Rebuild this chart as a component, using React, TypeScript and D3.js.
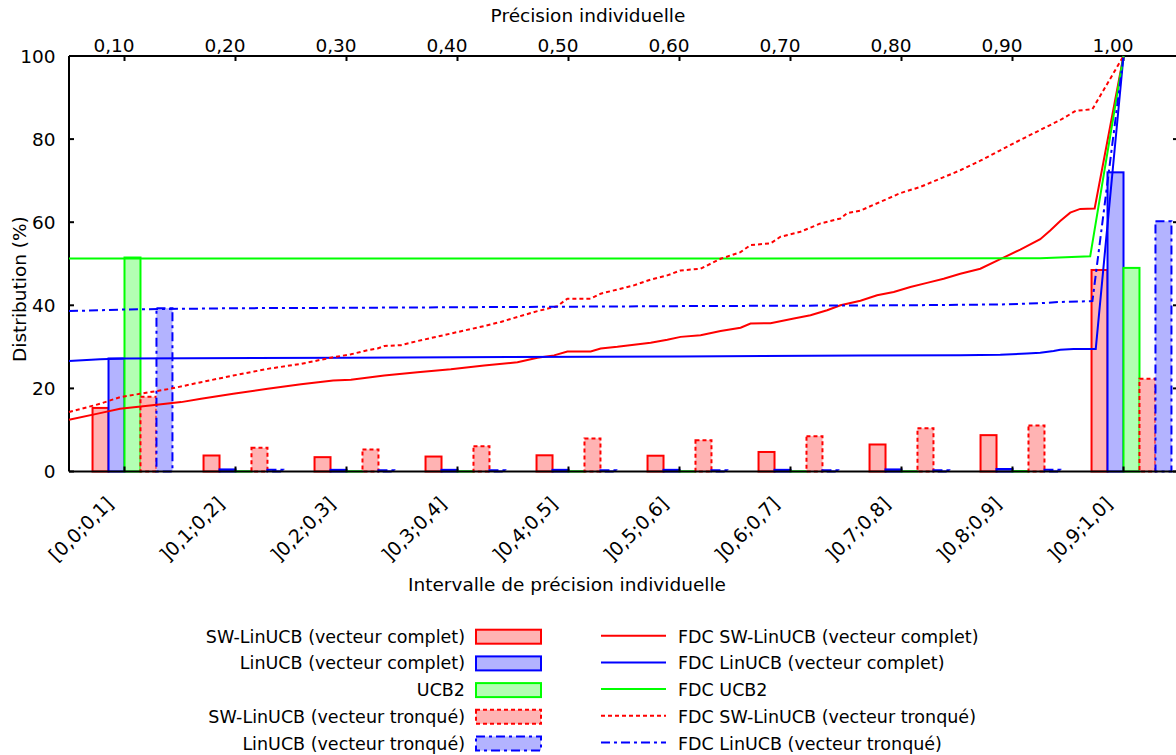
import React from 'react';
import * as d3 from 'd3';

// ---------- data ----------
const categories = [
  '[0,0;0,1]', ']0,1;0,2]', ']0,2;0,3]', ']0,3;0,4]', ']0,4;0,5]',
  ']0,5;0,6]', ']0,6;0,7]', ']0,7;0,8]', ']0,8;0,9]', ']0,9;1,0]',
];
const categoryPositions = [0.1, 0.2, 0.3, 0.4, 0.5, 0.6, 0.7, 0.8, 0.9, 1.0];
const topTicks = [0.1, 0.2, 0.3, 0.4, 0.5, 0.6, 0.7, 0.8, 0.9, 1.0];
const topTickLabels = ['0,10', '0,20', '0,30', '0,40', '0,50', '0,60', '0,70', '0,80', '0,90', '1,00'];
const yTicks = [0, 20, 40, 60, 80, 100];

// histogram values (%)
const barSwFull = [15.3, 3.85, 3.45, 3.6, 3.9, 3.8, 4.7, 6.5, 8.75, 48.5];
const barLinFull = [27.2, 0.5, 0.4, 0.4, 0.4, 0.4, 0.4, 0.5, 0.6, 72.0];
const barUcb2 = [51.5, 0.05, 0.05, 0.05, 0.05, 0.05, 0.05, 0.05, 0.1, 49.0];
const barSwTrunc = [18.0, 5.7, 5.3, 6.1, 7.95, 7.55, 8.5, 10.4, 11.1, 22.3];
const barLinTrunc = [39.3, 0.4, 0.3, 0.3, 0.3, 0.3, 0.3, 0.3, 0.4, 60.2];

// cumulative distribution functions (precision -> %)
const cdfSwFullX = [0.05, 0.078, 0.096, 0.123, 0.151, 0.169, 0.198, 0.229, 0.259, 0.288, 0.304, 0.334, 0.364, 0.394, 0.424, 0.454, 0.472, 0.487, 0.499, 0.520, 0.529, 0.544, 0.559, 0.574, 0.589, 0.601, 0.619, 0.637, 0.655, 0.664, 0.682, 0.703, 0.718, 0.733, 0.745, 0.763, 0.778, 0.793, 0.808, 0.823, 0.838, 0.853, 0.871, 0.889, 0.907, 0.925, 0.934, 0.943, 0.952, 0.961, 0.974, 1.0];
const cdfSwFullY = [12.45, 14.05, 15.1, 15.9, 16.7, 17.5, 18.7, 19.9, 21.0, 21.9, 22.1, 23.1, 23.9, 24.6, 25.5, 26.3, 27.4, 27.95, 28.9, 28.9, 29.6, 30.0, 30.5, 31.0, 31.7, 32.4, 32.8, 33.8, 34.6, 35.6, 35.7, 36.8, 37.6, 38.8, 40.0, 41.1, 42.4, 43.2, 44.4, 45.4, 46.4, 47.6, 48.8, 51.1, 53.4, 55.9, 58.0, 60.3, 62.3, 63.2, 63.3, 100];

const cdfSwTruncX = [0.05, 0.078, 0.096, 0.114, 0.141, 0.169, 0.198, 0.229, 0.259, 0.288, 0.304, 0.319, 0.328, 0.334, 0.349, 0.364, 0.394, 0.424, 0.439, 0.454, 0.472, 0.484, 0.490, 0.499, 0.520, 0.529, 0.544, 0.559, 0.574, 0.589, 0.601, 0.619, 0.637, 0.655, 0.664, 0.682, 0.691, 0.709, 0.727, 0.745, 0.751, 0.763, 0.781, 0.799, 0.817, 0.835, 0.853, 0.871, 0.889, 0.907, 0.925, 0.943, 0.957, 0.972, 1.0];
const cdfSwTruncY = [14.3, 16.3, 17.9, 18.7, 19.9, 21.5, 23.1, 24.7, 25.9, 27.5, 28.2, 29.2, 29.6, 30.2, 30.4, 31.4, 33.2, 35.0, 36.0, 37.2, 38.6, 39.4, 39.8, 41.6, 41.6, 42.8, 43.8, 44.8, 46.2, 47.2, 48.4, 48.8, 51.2, 52.8, 54.5, 54.9, 56.5, 57.7, 59.7, 60.9, 62.2, 62.8, 64.9, 67.0, 68.5, 70.5, 72.5, 74.8, 77.3, 79.8, 82.2, 84.6, 86.8, 87.2, 100];

const cdfLinFullX = [0.05, 0.078, 0.1, 0.3, 0.6, 0.763, 0.853, 0.889, 0.913, 0.925, 0.937, 0.943, 0.955, 0.975, 1.0];
const cdfLinFullY = [26.6, 27.0, 27.2, 27.4, 27.7, 27.9, 28.0, 28.1, 28.4, 28.6, 29.0, 29.3, 29.5, 29.5, 100];

const cdfUcb2X = [0.05, 0.925, 0.970, 1.0];
const cdfUcb2Y = [51.25, 51.3, 51.8, 100];

const cdfLinTruncX = [0.05, 0.1, 0.2, 0.3, 0.45, 0.6, 0.8, 0.889, 0.925, 0.943, 0.972, 1.0];
const cdfLinTruncY = [38.6, 39.0, 39.3, 39.4, 39.6, 39.8, 40.0, 40.2, 40.5, 40.8, 41.0, 100];

// ---------- series styling ----------
const RED = '#ff0000';
const BLUE = '#0000ff';
const GREEN = '#00ff00';
const DOT = '4,3';
const DASHDOT = '9,4,3,4';

const barSeries = [
  { name: 'SW-LinUCB (vecteur complet)', values: barSwFull, stroke: RED, fill: '#ffb3b3', dash: undefined as string | undefined },
  { name: 'LinUCB (vecteur complet)', values: barLinFull, stroke: BLUE, fill: '#b3b3ff', dash: undefined },
  { name: 'UCB2', values: barUcb2, stroke: GREEN, fill: '#b3ffb3', dash: undefined },
  { name: 'SW-LinUCB (vecteur tronqué)', values: barSwTrunc, stroke: RED, fill: '#ffb3b3', dash: DOT },
  { name: 'LinUCB (vecteur tronqué)', values: barLinTrunc, stroke: BLUE, fill: '#b3b3ff', dash: DASHDOT },
];

const lineSeries = [
  { name: 'FDC SW-LinUCB (vecteur complet)', xs: cdfSwFullX, ys: cdfSwFullY, stroke: RED, dash: undefined as string | undefined },
  { name: 'FDC LinUCB (vecteur complet)', xs: cdfLinFullX, ys: cdfLinFullY, stroke: BLUE, dash: undefined },
  { name: 'FDC UCB2', xs: cdfUcb2X, ys: cdfUcb2Y, stroke: GREEN, dash: undefined },
  { name: 'FDC SW-LinUCB (vecteur tronqué)', xs: cdfSwTruncX, ys: cdfSwTruncY, stroke: RED, dash: DOT },
  { name: 'FDC LinUCB (vecteur tronqué)', xs: cdfLinTruncX, ys: cdfLinTruncY, stroke: BLUE, dash: DASHDOT },
];

// ---------- layout ----------
const W = 1176;
const H = 755;
const FONT = '"DejaVu Sans", Verdana, sans-serif';
const LEFT = 69;
const RIGHT = 1179;
const TOP = 56;
const BOTTOM = 471.5;
const BAR_W = 0.0144;
const FS = 18.5;
const LEG_FS = 17.5;

export default function App() {
  const x = d3.scaleLinear().domain([0.05, 1.05]).range([LEFT, RIGHT]);
  const y = d3.scaleLinear().domain([0, 100]).range([BOTTOM, TOP]);
  const bw = x(BAR_W) - x(0);

  const line = d3.line<[number, number]>().x(d => x(d[0])).y(d => y(d[1]));

  const legendRows = [636.7, 663.4, 690.1, 716.8, 743.5];

  return (
    <svg width={W} height={H} style={{ position: 'absolute', left: 0, top: 0, background: '#fff' }} fontFamily={FONT}>
      <rect x={0} y={0} width={W} height={H} fill="#fff" />

      {/* bars */}
      {barSeries.map((s, k) => (
        <g key={s.name}>
          {s.values.map((v, i) => {
            const x0 = x(categoryPositions[i]) + (k - 2) * bw;
            return (
              <rect key={i} x={x0} y={y(v)} width={bw} height={y(0) - y(v)}
                fill={s.fill} stroke={s.stroke} strokeWidth={2} strokeDasharray={s.dash} />
            );
          })}
        </g>
      ))}

      {/* frame */}
      <g stroke="#000" strokeWidth={2} fill="none">
        <line x1={LEFT} y1={TOP} x2={RIGHT} y2={TOP} />
        <line x1={LEFT} y1={BOTTOM} x2={RIGHT} y2={BOTTOM} />
        <line x1={LEFT} y1={TOP} x2={LEFT} y2={BOTTOM} />
        <line x1={RIGHT} y1={TOP} x2={RIGHT} y2={BOTTOM} />
      </g>

      {/* y ticks */}
      {yTicks.map(t => (
        <g key={t}>
          <line x1={LEFT} x2={LEFT + 5} y1={y(t)} y2={y(t)} stroke="#000" strokeWidth={2} />
          <line x1={RIGHT - 6} x2={RIGHT} y1={y(t)} y2={y(t)} stroke="#000" strokeWidth={2} />
          <text x={55.5} y={y(t) + 6.5} fontSize={FS} textAnchor="end" fill="#000">{t}</text>
        </g>
      ))}

      {/* top ticks */}
      {topTicks.map((t, i) => (
        <g key={t}>
          <line x1={x(t)} x2={x(t)} y1={TOP} y2={TOP + 5} stroke="#000" strokeWidth={2} />
          <text x={x(t) - 10.5} y={51.5} fontSize={FS} textAnchor="middle" fill="#000">{topTickLabels[i]}</text>
        </g>
      ))}

      {/* bottom category ticks */}
      {categoryPositions.map((p, i) => (
        <g key={p}>
          <line x1={x(p)} x2={x(p)} y1={BOTTOM} y2={BOTTOM - 5} stroke="#000" strokeWidth={2} />
          <text transform={`translate(${x(p) - 10},${505}) rotate(-45)`} fontSize={19} textAnchor="end" fill="#000">
            {categories[i]}
          </text>
        </g>
      ))}

      {/* CDF lines */}
      {lineSeries.map(s => (
        <path key={s.name} d={line(s.xs.map((v, i) => [v, s.ys[i]] as [number, number])) || ''}
          fill="none" stroke={s.stroke} strokeWidth={2} strokeDasharray={s.dash} />
      ))}

      {/* axis titles */}
      <text x={588} y={22} fontSize={FS} textAnchor="middle" fill="#000">Précision individuelle</text>
      <text x={567} y={591} fontSize={FS} textAnchor="middle" fill="#000">Intervalle de précision individuelle</text>
      <text transform="translate(26,362) rotate(-90)" fontSize={FS} textAnchor="start" fill="#000">Distribution (%)</text>

      {/* legend: bars */}
      {barSeries.map((s, k) => (
        <g key={s.name}>
          <text x={465} y={legendRows[k] + 6} fontSize={LEG_FS} textAnchor="end" fill="#000">{s.name}</text>
          <rect x={476} y={legendRows[k] - 7} width={65} height={14} fill={s.fill} stroke={s.stroke}
            strokeWidth={2} strokeDasharray={s.dash} />
        </g>
      ))}

      {/* legend: lines */}
      {lineSeries.map((s, k) => (
        <g key={s.name}>
          <line x1={601} x2={666} y1={legendRows[k] - 1} y2={legendRows[k] - 1} stroke={s.stroke} strokeWidth={2}
            strokeDasharray={s.dash} />
          <text x={678} y={legendRows[k] + 6} fontSize={LEG_FS} textAnchor="start" fill="#000">{s.name}</text>
        </g>
      ))}
    </svg>
  );
}
